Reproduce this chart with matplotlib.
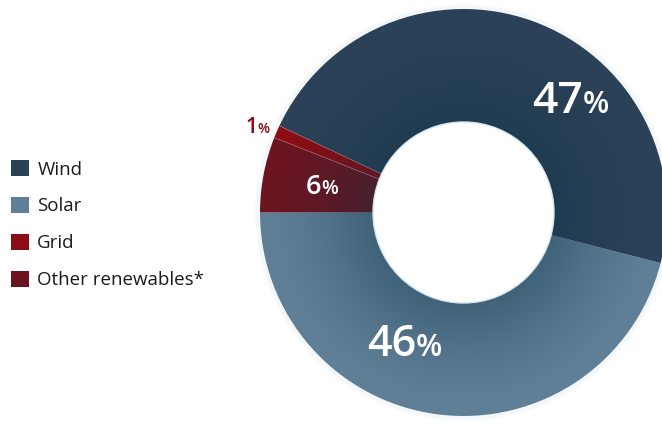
import numpy as np
import matplotlib.pyplot as plt
from matplotlib.patches import Patch, Circle, Wedge

# Reparto de la energia por fuente (%)
fuentes = ['Wind', 'Solar', 'Grid', 'Other renewables*']
porcentajes = [47, 46, 1, 6]
colores = ['#2b4157', '#5f7f97', '#8b0c14', '#6b1520']

# orden de dibujo en sentido antihorario desde la izquierda
orden = [1, 0, 2, 3]

plt.rcParams['font.family'] = ['Open Sans', 'DejaVu Sans']

fig = plt.figure(figsize=(6.62, 4.24), dpi=100)
W, H = 662, 424
cx, cy, R = 463.5, 212.5, 203.5
ax = fig.add_axes([(cx - R) / W, (H - cy - R) / H, 2 * R / W, 2 * R / H])

rin = 90.5 / R

wedges, _ = ax.pie([porcentajes[i] for i in orden],
                   colors=[colores[i] for i in orden],
                   startangle=180, counterclock=True, radius=1,
                   wedgeprops=dict(width=1 - rin, edgecolor='none', linewidth=0))
for w in wedges:
    w.set_clip_on(False)

# pie() cambia los limites, se fijan despues
ax.set_xlim(-1, 1)
ax.set_ylim(-1, 1)
ax.set_aspect('equal')
ax.axis('off')

# halo suave alrededor del anillo
for k in range(6):
    ax.add_patch(Circle((0, 0), 1 + 0.004 * (k + 1), fc='none', ec='#d8e8ef',
                        lw=1.2, alpha=0.2 - 0.03 * k, zorder=0, clip_on=False))

# degradado radial mas oscuro hacia el centro
n = 600
xs = np.linspace(-1, 1, n)
X, Y = np.meshgrid(xs, xs)
r = np.hypot(X, Y)
a = np.clip((0.95 - r) / (0.95 - rin), 0, 1) ** 1.3 * 0.38
img = np.zeros((n, n, 4))
img[..., 0] = 0.05
img[..., 1] = 0.20
img[..., 2] = 0.28
img[..., 3] = a
im = ax.imshow(img, extent=(-1, 1, -1, 1), origin='lower', zorder=2,
               interpolation='bilinear')
anillo = Wedge((0, 0), 1, 0, 360, width=1 - rin, transform=ax.transData)
im.set_clip_path(anillo)

# lineas finas entre las porciones rojas
angs = np.cumsum([0] + [porcentajes[i] for i in orden]) * 3.6 + 180
for ang in angs[2:4]:
    t = np.deg2rad(ang)
    ax.plot([rin * np.cos(t), np.cos(t)], [rin * np.sin(t), np.sin(t)],
            color='#d8a0a0', lw=0.5, ls=(0, (2, 1)), alpha=0.6, zorder=3)

# borde del hueco central
ax.add_patch(Circle((0, 0), rin, fc='white', ec='#d6e6ee', lw=1.0, zorder=4))

# etiquetas de porcentaje: numero grande y % mas pequeno
etiquetas = [
    (0, 0.335, 0.49, 32, 22, 'white'),
    (1, -0.475, -0.705, 31, 22, 'white'),
    (3, -0.775, 0.09, 19.5, 14, 'white'),
    (2, -1.07, 0.39, 15, 10, '#8b0c14'),
]
fig.canvas.draw()
rend = fig.canvas.get_renderer()
for i, x, y, fs1, fs2, col in etiquetas:
    t1 = ax.text(x, y, str(porcentajes[i]), fontsize=fs1, color=col,
                 fontweight='semibold', ha='left', va='baseline', zorder=5,
                 clip_on=False)
    bb = t1.get_window_extent(rend)
    x2 = ax.transData.inverted().transform((bb.x1, bb.y0))[0]
    ax.text(x2, y, '%', fontsize=fs2, color=col, fontweight='semibold',
            ha='left', va='baseline', zorder=5, clip_on=False)

manejadores = [Patch(facecolor=c, edgecolor='none') for c in colores]
fig.legend(manejadores, fuentes, loc='upper left',
           bbox_to_anchor=(-4 / W, 1 - 145 / H), frameon=False,
           fontsize=13.5, handlelength=0.95, handleheight=0.95,
           handletextpad=0.45, labelspacing=0.98, borderpad=0.3,
           labelcolor='#1a1a1a')

fig.savefig('out.png', dpi=100)
